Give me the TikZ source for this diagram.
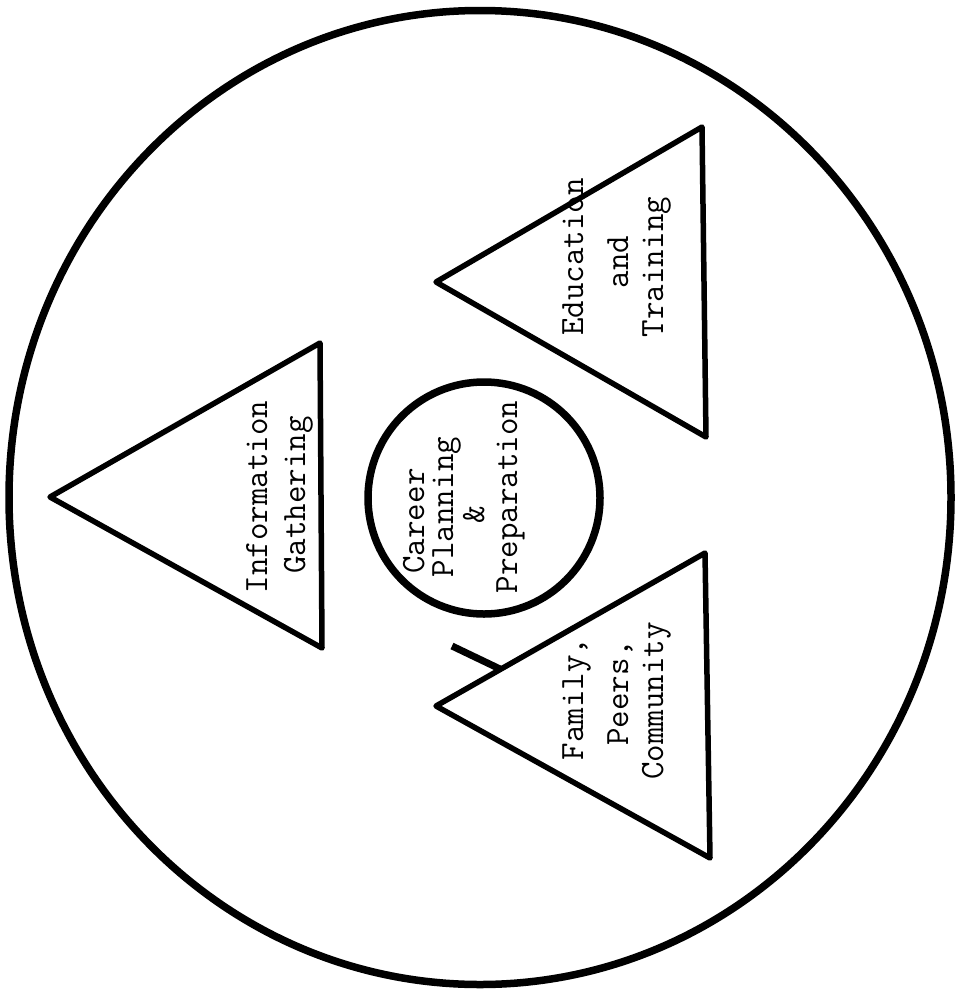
\documentclass[tikz,border=0pt]{standalone}
\usepackage{fontspec}
\begin{document}
\begin{tikzpicture}[x=1pt,y=-1pt,line join=round,line cap=round,
  tri/.style={draw=black,line width=5.5pt},
  ring/.style={draw=black,line width=7.5pt},
  lbl/.style={rotate=90,anchor=base,inner sep=0pt,font=\ttfamily\fontsize{34}{40}\selectfont}]
\useasboundingbox[fill=white] (0,0) rectangle (956,993);
% outer circle
\draw[ring] (480,497.5) ellipse [x radius=471,y radius=487];
% centre circle
\draw[ring] (484,498) circle [radius=116];
% triangles
\draw[tri] (50,497) -- (320,343) -- (322,648) -- cycle;
\draw[tri] (436,282) -- (702,127) -- (706,437) -- cycle;
\draw[tri] (436,706) -- (705,553) -- (710,858) -- cycle;
% short stroke
\coordinate (s1) at (452,646);
\coordinate (s2) at (500,669);
\draw[line width=7pt,line cap=butt] (s1) -- (s2);
% labels
\node[lbl] (i1) at (267,497) {Information};
\node[lbl] (i2) at (305,495) {Gathering};
\node[lbl] (e1) at (583,257) {Education};
\node[lbl] (e2) at (628,262) {and};
\node[lbl] (e3) at (663,267) {Training};
\node[lbl] (c1) at (424,521) {Career};
\node[lbl] (c2) at (453,507) {Planning};
\node[lbl] (c3) at (484,515) {\&};
\node[lbl] (c4) at (517,497) {Preparation};
\node[lbl] (f1) at (583,699) {Family,};
\node[lbl] (f2) at (628,693) {Peers,};
\node[lbl] (f3) at (663,701) {Community};
\end{tikzpicture}
\end{document}
